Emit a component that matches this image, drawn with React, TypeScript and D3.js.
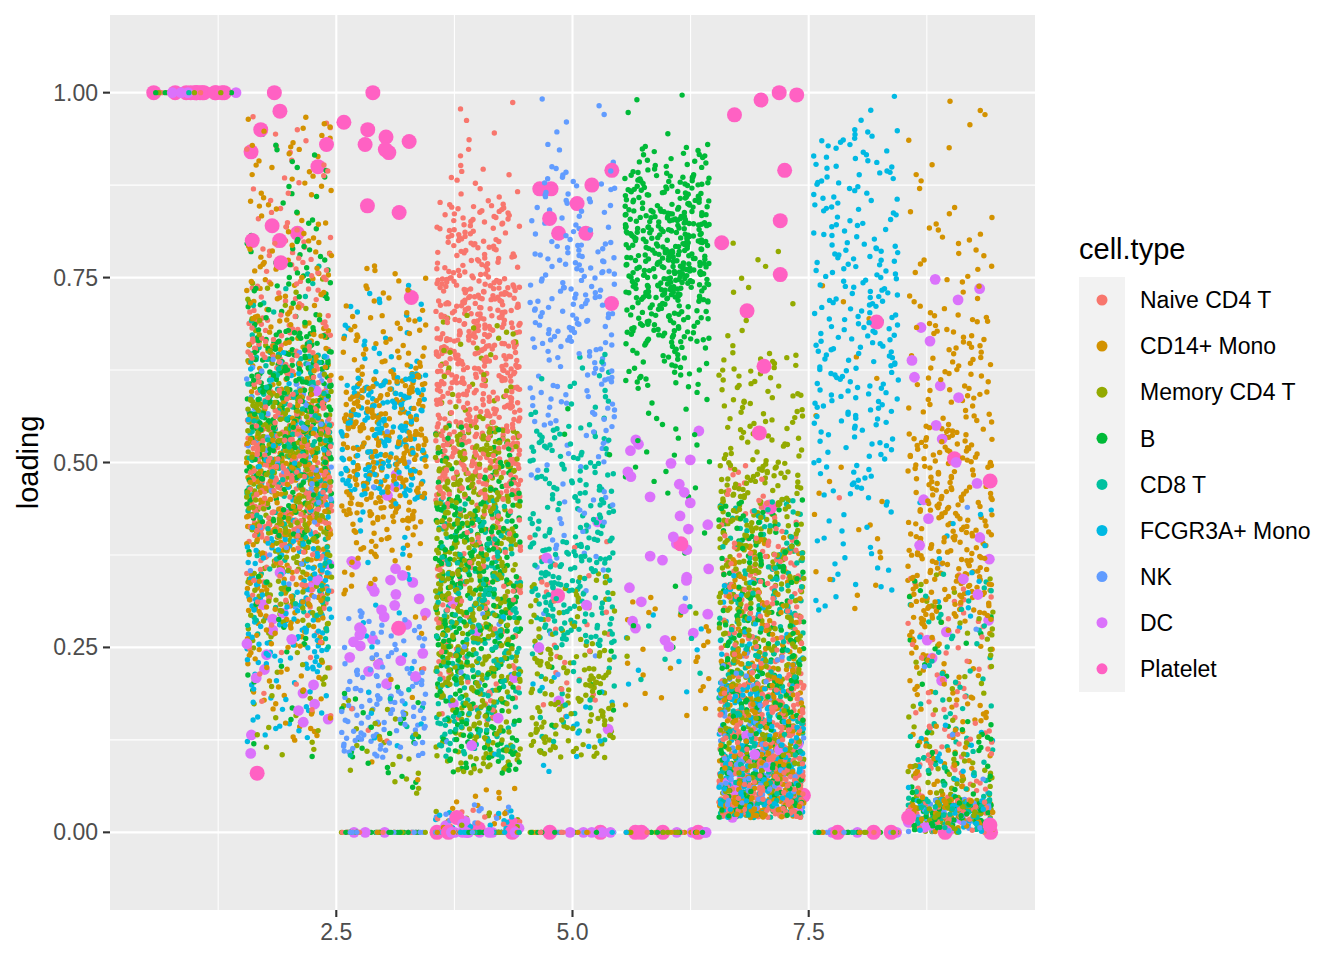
import React from "react";
import * as d3 from "d3";

// cell types and ggplot hue colours
const cellTypes = [
  "Naive CD4 T",
  "CD14+ Mono",
  "Memory CD4 T",
  "B",
  "CD8 T",
  "FCGR3A+ Mono",
  "NK",
  "DC",
  "Platelet",
];
const typeColors = [
  "#F8766D",
  "#D39200",
  "#93AA00",
  "#00BA38",
  "#00C19F",
  "#00B9E3",
  "#619CFF",
  "#DB72FB",
  "#FF61C3",
];
const typeRadius = [2.7, 2.7, 2.7, 2.7, 2.7, 2.7, 2.7, 5.4, 7.5];

// loading bands: [cell type, low, high, count]
const bands1 = [
  [8, 1, 1, 14], [7, 1, 1, 5], [3, 1, 1, 8], [1, 1, 1, 6], [0, 1, 1, 5],
  [5, 1, 1, 4], [2, 1, 1, 3], [4, 1, 1, 3],
];
const bands2 = [
  [0, 0.8, 0.97, 25], [0, 0.7, 0.8, 40], [0, 0.55, 0.7, 120], [0, 0.4, 0.55, 270], [0, 0.3, 0.4, 50], [0, 0.15, 0.3, 15],
  [1, 0.8, 0.97, 40], [1, 0.7, 0.8, 40], [1, 0.55, 0.7, 80], [1, 0.38, 0.55, 180], [1, 0.25, 0.38, 80], [1, 0.12, 0.25, 30],
  [2, 0.6, 0.75, 25], [2, 0.4, 0.6, 240], [2, 0.28, 0.4, 80], [2, 0.1, 0.28, 30],
  [3, 0.8, 0.95, 18], [3, 0.68, 0.8, 40], [3, 0.5, 0.68, 210], [3, 0.4, 0.5, 60], [3, 0.18, 0.4, 18], [3, 0.1, 0.18, 4],
  [4, 0.65, 0.78, 14], [4, 0.45, 0.65, 140], [4, 0.25, 0.45, 50],
  [5, 0.4, 0.65, 50], [5, 0.22, 0.4, 120], [5, 0.12, 0.22, 25],
  [6, 0.45, 0.65, 65], [6, 0.3, 0.45, 20],
  [7, 0.15, 0.38, 18], [7, 0.08, 0.15, 3], [7, 0.45, 0.62, 3],
];
const bands3 = [
  [1, 0.7, 0.77, 15], [1, 0.62, 0.7, 40], [1, 0.55, 0.62, 90], [1, 0.42, 0.55, 170], [1, 0.36, 0.42, 30], [1, 0.32, 0.36, 8], [1, 0.07, 0.3, 10],
  [5, 0.62, 0.74, 25], [5, 0.45, 0.62, 170], [5, 0.3, 0.45, 12], [5, 0.1, 0.3, 12],
  [6, 0.22, 0.3, 30], [6, 0.1, 0.22, 100], [6, 0.45, 0.55, 3],
  [7, 0.2, 0.37, 28], [7, 0.45, 0.5, 3],
  [2, 0.05, 0.18, 22], [3, 0.06, 0.2, 22], [0, 0.1, 0.3, 6], [4, 0.1, 0.2, 6],
  [0, 0, 0, 20], [3, 0, 0, 20], [6, 0, 0, 20], [2, 0, 0, 10], [7, 0, 0, 3], [1, 0, 0, 5],
];
const bands4 = [
  [0, 0.9, 1.0, 8], [0, 0.85, 0.9, 12], [0, 0.75, 0.85, 90], [0, 0.6, 0.75, 250], [0, 0.45, 0.6, 230],
  [0, 0.3, 0.45, 70], [0, 0.15, 0.3, 35],
  [2, 0.55, 0.7, 35], [2, 0.4, 0.55, 180], [2, 0.2, 0.4, 250], [2, 0.08, 0.2, 90],
  [3, 0.45, 0.55, 45], [3, 0.25, 0.45, 200], [3, 0.08, 0.25, 100],
  [4, 0.35, 0.45, 55], [4, 0.1, 0.35, 190],
  [5, 0.1, 0.3, 8], [6, 0.1, 0.3, 8], [7, 0.1, 0.35, 6],
  [0, 0, 0, 25], [1, 0, 0, 25], [2, 0, 0, 15], [3, 0, 0, 15], [4, 0, 0, 15], [5, 0, 0, 25], [6, 0, 0, 25], [7, 0, 0, 12],
  [1, 0.005, 0.06, 14], [6, 0.005, 0.04, 12], [5, 0.005, 0.03, 14], [0, 0.005, 0.03, 10], [2, 0.005, 0.03, 8], [7, 0.005, 0.02, 5],
];
const bands5 = [
  [6, 0.9, 1.0, 8], [6, 0.8, 0.9, 40], [6, 0.65, 0.8, 100], [6, 0.55, 0.65, 45], [6, 0.35, 0.55, 40], [6, 0.2, 0.35, 5],
  [4, 0.55, 0.65, 18], [4, 0.4, 0.55, 95], [4, 0.25, 0.4, 140], [4, 0.12, 0.25, 22],
  [2, 0.25, 0.35, 35], [2, 0.1, 0.25, 125],
  [0, 0.15, 0.4, 28], [5, 0.08, 0.22, 15], [3, 0.5, 0.6, 3], [3, 0.1, 0.25, 8], [7, 0.13, 0.45, 6],
  [0, 0, 0, 12], [3, 0, 0, 12], [6, 0, 0, 10], [2, 0, 0, 8], [1, 0, 0, 10], [5, 0, 0, 6], [7, 0, 0, 5],
];
const bands6 = [
  [3, 0.93, 1.0, 4], [3, 0.89, 0.93, 25], [3, 0.84, 0.89, 70], [3, 0.72, 0.84, 250], [3, 0.66, 0.72, 70],
  [3, 0.6, 0.66, 35], [3, 0.45, 0.6, 22], [3, 0.25, 0.45, 6],
  [7, 0.25, 0.55, 32], [1, 0.15, 0.32, 25], [5, 0.18, 0.3, 8], [4, 0.2, 0.32, 6], [2, 0.2, 0.3, 4], [6, 0.3, 0.35, 1],
  [0, 0, 0, 10], [2, 0, 0, 10], [3, 0, 0, 8], [1, 0, 0, 8], [5, 0, 0, 5], [7, 0, 0, 6],
];
const bands7 = [
  [2, 0.65, 0.8, 12], [2, 0.5, 0.65, 70], [2, 0.35, 0.5, 150], [2, 0.2, 0.35, 130], [2, 0.05, 0.2, 140],
  [0, 0.4, 0.5, 22], [0, 0.2, 0.4, 140], [0, 0.08, 0.2, 190], [0, 0.02, 0.08, 140],
  [1, 0.25, 0.4, 45], [1, 0.05, 0.25, 170], [1, 0.02, 0.05, 90],
  [3, 0.3, 0.45, 65], [3, 0.1, 0.3, 115], [3, 0.02, 0.1, 70],
  [4, 0.3, 0.45, 65], [4, 0.1, 0.3, 105], [4, 0.02, 0.1, 70],
  [5, 0.2, 0.35, 35], [5, 0.05, 0.2, 140], [5, 0.02, 0.05, 45],
  [6, 0.1, 0.25, 45], [6, 0.03, 0.1, 70],
  [7, 0.02, 0.15, 15],
];
const bands8 = [
  [5, 0.95, 1.0, 3], [5, 0.8, 0.95, 65], [5, 0.65, 0.8, 85], [5, 0.55, 0.65, 55], [5, 0.45, 0.55, 35], [5, 0.3, 0.45, 25],
  [1, 0.55, 0.75, 6], [1, 0.3, 0.5, 15], [0, 0.45, 0.5, 1],
  [0, 0, 0, 12], [3, 0, 0, 10], [2, 0, 0, 8], [6, 0, 0, 8], [1, 0, 0, 6], [4, 0, 0, 5], [7, 0, 0, 5],
];
const bands9 = [
  [1, 0.85, 0.99, 10], [1, 0.7, 0.85, 30], [1, 0.55, 0.7, 65], [1, 0.4, 0.55, 130], [1, 0.28, 0.4, 120],
  [1, 0.15, 0.28, 45], [1, 0.03, 0.15, 35],
  [7, 0.2, 0.76, 25],
  [0, 0.15, 0.35, 40], [0, 0.03, 0.15, 45],
  [4, 0.15, 0.35, 35], [4, 0.03, 0.15, 35],
  [3, 0.2, 0.35, 15], [3, 0.03, 0.15, 35],
  [5, 0.25, 0.45, 15], [5, 0.03, 0.15, 18],
  [2, 0.1, 0.35, 35], [2, 0.03, 0.1, 35],
  [6, 0.05, 0.45, 6],
  [0, 0, 0.045, 55], [1, 0, 0.045, 40], [2, 0, 0.045, 55], [3, 0, 0.045, 55], [4, 0, 0.045, 55],
  [5, 0, 0.045, 40], [6, 0, 0.045, 30], [7, 0, 0.03, 8],
];

// individual platelet loadings per column
const platelets1: number[] = [];
const platelets2 = [1.0, 0.975, 0.95, 0.92, 0.9, 0.93, 0.82, 0.81, 0.8, 0.8, 0.77, 0.08];
const platelets3 = [0.923, 0.847, 0.919, 0.93, 0.96, 0.95, 0.94, 0.934, 1.0, 0.838, 0.723, 0.276];
const platelets4 = [0, 0, 0, 0.01, 0.02, 0.005];
const platelets5 = [0.895, 0.87, 0.875, 0.87, 0.85, 0.83, 0.81, 0.81, 0.715, 0.32, 0, 0];
const platelets6 = [0.39, 0, 0, 0, 0];
const platelets7 = [0.99, 1.0, 0.997, 0.97, 0.895, 0.827, 0.797, 0.754, 0.705, 0.63, 0.54, 0.44, 0.05, 0.03, 0.07];
const platelets8 = [0.69, 0, 0, 0];
const platelets9 = [0.505, 0.475, 0, 0, 0.01, 0.02];

const columnBands = [bands1, bands2, bands3, bands4, bands5, bands6, bands7, bands8, bands9];
const columnPlatelets = [
  platelets1, platelets2, platelets3, platelets4, platelets5,
  platelets6, platelets7, platelets8, platelets9,
];

const xTicks = [2.5, 5.0, 7.5];
const yTicks = [0, 0.25, 0.5, 0.75, 1.0];

const W = 1344;
const H = 960;
const panel = { left: 110, right: 1035, top: 15, bottom: 910 };
const JITTER = 0.45;

const frac = (v: number) => v - Math.floor(v);
// deterministic horizontal jitter (stands in for geom_jitter)
const jitter = (k: number) => frac(Math.sin(k * 12.9898 + 78.233) * 43758.5453);

type Pt = { x: number; y: number; t: number; order: number };

function buildPoints(): Pt[] {
  const pts: Pt[] = [];
  let k = 0;
  columnBands.forEach((bands, ci) => {
    const col = ci + 1;
    const rows: number[][] = bands.map((b) => b.slice());
    columnPlatelets[ci].forEach((v) => rows.push([8, v, v, 1]));
    rows.forEach(([t, lo, hi, n]) => {
      for (let i = 0; i < n; i++) {
        k++;
        const u = jitter(k);
        const v = frac(0.61 + k * 0.6180339887498949 + 0.3 * jitter(k + 7919) / Math.max(n, 1));
        pts.push({
          x: col + (u * 2 - 1) * JITTER,
          y: lo + (hi - lo) * v,
          t,
          order: jitter(k + 104729),
        });
      }
    });
  });
  // interleave draw order like rows of a long table
  return pts.sort((a, b) => a.order - b.order);
}

const App = () => {
  const x = d3.scaleLinear().domain([0.105, 9.895]).range([panel.left, panel.right]);
  const y = d3.scaleLinear().domain([-0.105, 1.105]).range([panel.bottom, panel.top]);
  const points = buildPoints();

  const xMinor = [1.25, 3.75, 6.25, 8.75];
  const yMinor = [0.125, 0.375, 0.625, 0.875];
  const font = "'Liberation Sans', Arial, sans-serif";

  return (
    <svg width={W} height={H} style={{ display: "block", position: "absolute", left: 0, top: 0 }}>
      <rect x={0} y={0} width={W} height={H} fill="#FFFFFF" />
      <rect
        x={panel.left}
        y={panel.top}
        width={panel.right - panel.left}
        height={panel.bottom - panel.top}
        fill="#EBEBEB"
      />
      {/* minor grid */}
      {xMinor.map((d) => (
        <line key={"xm" + d} x1={x(d)} x2={x(d)} y1={panel.top} y2={panel.bottom} stroke="#FFFFFF" strokeWidth={1.05} />
      ))}
      {yMinor.map((d) => (
        <line key={"ym" + d} x1={panel.left} x2={panel.right} y1={y(d)} y2={y(d)} stroke="#FFFFFF" strokeWidth={1.05} />
      ))}
      {/* major grid */}
      {xTicks.map((d) => (
        <line key={"xg" + d} x1={x(d)} x2={x(d)} y1={panel.top} y2={panel.bottom} stroke="#FFFFFF" strokeWidth={2.1} />
      ))}
      {yTicks.map((d) => (
        <line key={"yg" + d} x1={panel.left} x2={panel.right} y1={y(d)} y2={y(d)} stroke="#FFFFFF" strokeWidth={2.1} />
      ))}

      {/* points */}
      <g>
        {points.map((p, i) => (
          <circle
            key={i}
            cx={x(p.x)}
            cy={y(p.y)}
            r={typeRadius[p.t]}
            fill={typeColors[p.t]}
          />
        ))}
      </g>

      {/* y axis */}
      {yTicks.map((d) => (
        <g key={"yt" + d}>
          <line x1={panel.left - 7} x2={panel.left} y1={y(d)} y2={y(d)} stroke="#333333" strokeWidth={2.1} />
          <text
            x={panel.left - 12}
            y={y(d)}
            dy="0.35em"
            textAnchor="end"
            fontFamily={font}
            fontSize={23}
            fill="#4D4D4D"
          >
            {d3.format(".2f")(d)}
          </text>
        </g>
      ))}
      {/* x axis */}
      {xTicks.map((d) => (
        <g key={"xt" + d}>
          <line x1={x(d)} x2={x(d)} y1={panel.bottom} y2={panel.bottom + 7} stroke="#333333" strokeWidth={2.1} />
          <text
            x={x(d)}
            y={panel.bottom + 30}
            textAnchor="middle"
            fontFamily={font}
            fontSize={23}
            fill="#4D4D4D"
          >
            {d3.format(".1f")(d)}
          </text>
        </g>
      ))}
      <text
        transform={`translate(38, ${(panel.top + panel.bottom) / 2}) rotate(-90)`}
        textAnchor="middle"
        fontFamily={font}
        fontSize={29}
        fill="#000000"
      >
        loading
      </text>

      {/* legend */}
      <g>
        <text x={1079} y={259} fontFamily={font} fontSize={29} fill="#000000">
          cell.type
        </text>
        <rect x={1079} y={277} width={46} height={415} fill="#F2F2F2" />
        {cellTypes.map((name, i) => (
          <g key={name}>
            <circle cx={1102} cy={300 + i * 46.1} r={5.5} fill={typeColors[i]} />
            <text
              x={1140}
              y={300 + i * 46.1}
              dy="0.36em"
              fontFamily={font}
              fontSize={23}
              fill="#000000"
            >
              {name}
            </text>
          </g>
        ))}
      </g>
    </svg>
  );
};

export default App;
